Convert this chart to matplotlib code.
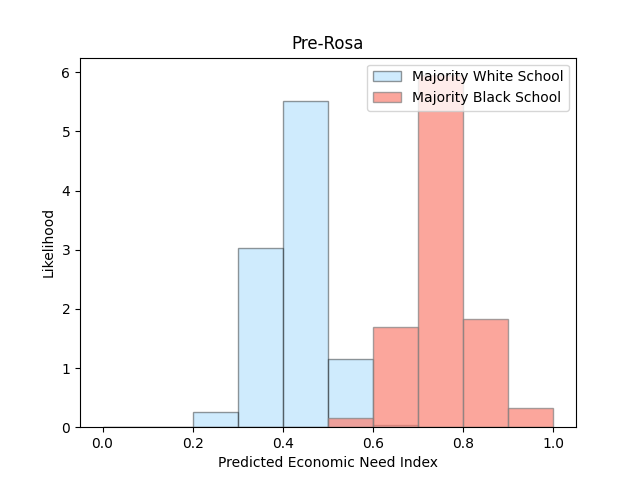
import numpy as np
import matplotlib
matplotlib.use("Agg")
import matplotlib.pyplot as plt

bin_edges = [0.0, 0.1, 0.2, 0.3, 0.4, 0.5, 0.6, 0.7, 0.8, 0.9, 1.0]
white_density = [0.0, 0.0, 0.25, 3.03, 5.52, 1.15, 0.03, 0.0, 0.0, 0.0]
black_density = [0.0, 0.0, 0.0, 0.0, 0.0, 0.16, 1.69, 5.95, 1.83, 0.33]
labels = ["Majority White School", "Majority Black School"]

fig, ax = plt.subplots(figsize=(6.4, 4.8), dpi=100)
left = np.array(bin_edges[:-1])
ax.hist(left, bins=bin_edges, weights=white_density, color="lightskyblue",
        alpha=0.4, edgecolor="black", label=labels[0])
ax.hist(left, bins=bin_edges, weights=black_density, color="salmon",
        alpha=0.7, edgecolor="grey", label=labels[1])
ax.set_title("Pre-Rosa")
ax.set_xlabel("Predicted Economic Need Index")
ax.set_ylabel("Likelihood")
ax.legend(loc="upper right")
fig.savefig("out.png")
